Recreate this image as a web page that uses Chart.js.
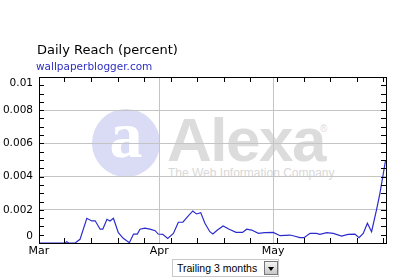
<!DOCTYPE html>
<html><head><meta charset="utf-8">
<script src="https://cdn.jsdelivr.net/npm/chart.js@4/dist/chart.umd.min.js"></script>
<style>
body{margin:0;background:#fff;}
#root{position:relative;width:399px;height:278px;overflow:hidden;background:#fff;font-family:"DejaVu Sans",Verdana,sans-serif;}
.abs{position:absolute;white-space:nowrap;}
#cv{position:absolute;left:0;top:0;}
</style></head>
<body><div id="root">
  <!-- watermark -->
  <div class="abs" style="left:92px;top:109px;width:68px;height:68px;border-radius:50%;background:#d9dcf4;"></div>
  <div class="abs" style="left:92px;top:102px;width:68px;text-align:center;font:bold 66px/66px 'Liberation Serif',serif;color:#fff;">a</div>
  <div class="abs" style="left:167px;top:109px;font:bold 62px/62px 'Liberation Sans',Arial,sans-serif;color:#dcdcdc;letter-spacing:-1.5px;">Alexa</div>
  <div class="abs" style="left:320px;top:124px;font:10px/10px 'Liberation Sans',Arial,sans-serif;color:#dcdcdc;">®</div>
  <div class="abs" style="left:168px;top:167px;font:12px/12px 'Liberation Sans',Arial,sans-serif;color:#d8d8d8;">The Web Information Company</div>
  <canvas id="cv" width="399" height="278"></canvas>
  <div class="abs" style="left:37px;top:42px;font:13px/15px 'DejaVu Sans',sans-serif;color:#000;">Daily Reach (percent)</div>
  <div class="abs" style="left:36px;top:60px;font:10.5px/13px 'DejaVu Sans',sans-serif;color:#2f2fc4;">wallpaperblogger.com</div>
  <div class="abs" style="left:172px;top:259px;width:107px;height:18px;border:1px solid #c8c8c8;background:#fff;box-sizing:border-box;"></div>
  <div class="abs" style="left:177px;top:262px;font:10.5px/13px 'Liberation Sans',Arial,sans-serif;color:#000;">Trailing 3 months</div>
  <div class="abs" style="left:264px;top:261px;width:14px;height:14px;border:1px solid #777;background:linear-gradient(#f4f4f4,#c8c8c8);box-sizing:border-box;"></div>
  <div class="abs" style="left:268px;top:267px;width:0;height:0;border-left:3.5px solid transparent;border-right:3.5px solid transparent;border-top:4px solid #000;"></div>
</div>
<script>
// Days counted from March 1 (day 0)
const days = [-0.7, 6.2, 6.6, 7.1, 8.8, 10.1, 11.9, 13.2, 14.1, 15.4, 16.1, 17.2, 18.0, 18.9, 20.2, 21.5, 23.1, 24.2, 25.2, 25.9, 27.2, 28.5, 29.9, 30.7, 31.9, 33.2, 34.7, 36.0, 37.2, 38.4, 39.8, 40.8, 41.9, 43.0, 44.3, 45.1, 46.3, 47.8, 49.4, 51.2, 52.9, 54.0, 55.3, 57.1, 58.8, 61.0, 62.8, 65.4, 66.5, 68.0, 69.1, 70.7, 72.4, 73.3, 75.1, 76.8, 79.0, 80.7, 82.5, 83.6, 84.7, 85.8, 86.9, 88.2, 89.1, 90.6];
const reach = [0, 0, 0.00008, 0, 0, 0.00022, 0.00149, 0.00133, 0.00134, 0.00083, 0.00083, 0.00143, 0.00133, 0.00149, 0.00062, 0.00028, 0.00002, 0.00054, 0.00054, 0.00083, 0.00089, 0.00084, 0.00074, 0.00054, 0.00052, 0.00028, 0.00058, 0.00125, 0.00125, 0.00158, 0.00193, 0.00175, 0.00183, 0.00119, 0.00068, 0.00054, 0.00078, 0.00102, 0.00083, 0.00064, 0.00064, 0.00083, 0.00078, 0.00058, 0.00062, 0.00064, 0.00044, 0.00048, 0.00042, 0.00032, 0.00032, 0.00058, 0.00058, 0.00052, 0.00062, 0.00058, 0.00042, 0.00052, 0.00054, 0.00032, 0.00058, 0.00119, 0.00068, 0.00199, 0.00299, 0.00500];
const monthTicks = [-0.7, 31, 61];
const monthLabels = ['Mar', 'Apr', 'May'];
const weekTicks = [6, 13, 20, 27, 34, 41, 48, 55, 62, 69, 76, 83, 90];
const yTickValues = [0, 0.002, 0.004, 0.006, 0.008, 0.01];
const yTickLabels = ['0', '0.002', '0.004', '0.006', '0.008', '0.01'];
const yMinorStep = 0.0005;

const points = days.map((d, i) => ({x: d, y: reach[i]}));

const framePlugin = {
  id: 'frame',
  afterDraw(chart) {
    const {ctx, chartArea: a, scales} = chart;
    ctx.save();
    ctx.strokeStyle = '#000';
    ctx.lineWidth = 1;
    ctx.beginPath();
    weekTicks.forEach(v => {
      const x = Math.round(scales.x.getPixelForValue(v)) + 0.5;
      if (x < a.left || x > a.right) return;
      ctx.moveTo(x, a.bottom); ctx.lineTo(x, a.bottom - 5);
      ctx.moveTo(x, a.top); ctx.lineTo(x, a.top + 5);
    });
    for (let v = 0; v <= 0.01 + 1e-9; v += yMinorStep) {
      const y = Math.round(scales.y.getPixelForValue(v)) + 0.5;
      ctx.moveTo(a.left, y); ctx.lineTo(a.left + 5, y);
      ctx.moveTo(a.right, y); ctx.lineTo(a.right - 5, y);
    }
    ctx.stroke();
    ctx.strokeRect(Math.round(a.left) + 0.5, Math.round(a.top) + 0.5, Math.round(a.right - a.left), Math.round(a.bottom - a.top));
    ctx.restore();
  }
};

new Chart(document.getElementById('cv'), {
  type: 'line',
  data: {datasets: [{data: points, borderColor: '#2b2bcc', borderWidth: 1.2, pointRadius: 0, tension: 0, fill: false}]},
  options: {
    responsive: false, animation: false, devicePixelRatio: 1,
    layout: {padding: {top: 77, right: 13, left: 0, bottom: 0}},
    plugins: {legend: {display: false}, tooltip: {enabled: false}},
    scales: {
      x: {
        type: 'linear', min: -0.7, max: 90.7,
        afterBuildTicks(s) { s.ticks = monthTicks.map(v => ({value: v})); },
        afterFit(s) { s.height = 35; },
        ticks: {
          autoSkip: false, maxRotation: 0, padding: 2, color: '#000',
          font: {family: 'DejaVu Sans', size: 11},
          callback: (v, i) => monthLabels[i]
        },
        grid: {drawTicks: false, color: (c) => c.index === 0 ? 'rgba(0,0,0,0)' : '#c4c4c4', lineWidth: 1},
        border: {display: false}
      },
      y: {
        min: 0, max: 0.01,
        afterBuildTicks(s) { s.ticks = yTickValues.map(v => ({value: v})); },
        afterFit(s) { s.width = 39; },
        ticks: {
          padding: 6, color: '#000',
          font: {family: 'DejaVu Sans', size: 10.5},
          callback: (v, i) => {
            const t = yTickLabels[i];
            if (i === yTickLabels.length - 1) return ['', t];
            if (i === 0) return [t, ''];
            return t;
          }
        },
        grid: {drawTicks: false, color: '#c4c4c4', lineWidth: 1},
        border: {display: false}
      }
    }
  },
  plugins: [framePlugin]
});
</script>
</body></html>
